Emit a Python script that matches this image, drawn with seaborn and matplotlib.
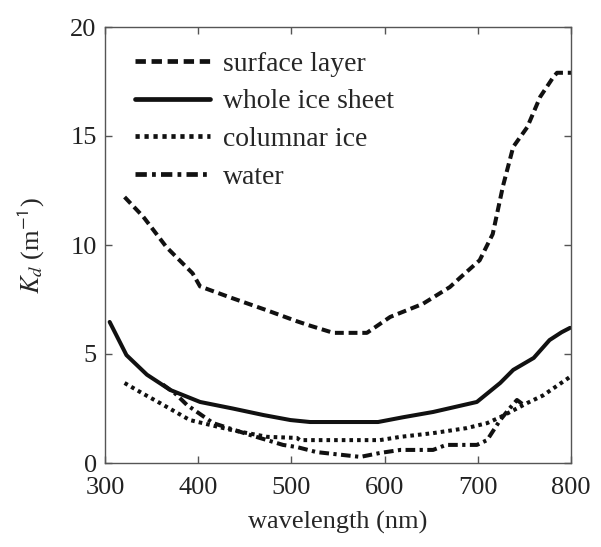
import matplotlib
matplotlib.use('Agg')
import matplotlib.pyplot as plt
import numpy as np
import pandas as pd
import seaborn as sns

sns.set_theme(style='ticks')
plt.rcParams.update({'font.family'      : 'serif',
                     'font.serif'       : ['Liberation Serif', 'DejaVu Serif'],
                     'mathtext.fontset' : 'stix',
                     'font.size'        : 19,
                     'xtick.labelsize'  : 19,
                     'ytick.labelsize'  : 19,
                     'axes.labelsize'   : 19,
                     'axes.linewidth'   : 1.0,
                     'axes.edgecolor'   : '#555555',
                     'xtick.direction'  : 'in',
                     'ytick.direction'  : 'in',
                     'xtick.color'      : '#555555',
                     'ytick.color'      : '#555555',
                     'xtick.labelcolor' : '#222222',
                     'ytick.labelcolor' : '#222222'})

#-- data --
surf_wl   = [321, 341, 366, 394, 402, 434, 474, 506, 520, 545, 581, 606, 641, 670, 681,
             702, 716, 727, 738, 753, 767, 781, 785, 800]
surf_kd   = [12.2, 11.3, 9.9, 8.7, 8.1, 7.6, 7.0, 6.5, 6.3, 5.97, 5.97, 6.7, 7.3, 8.07, 8.5,
             9.3, 10.5, 12.7, 14.5, 15.4, 16.8, 17.7, 17.9, 17.9]

whole_wl  = [305, 323, 345, 370, 402, 437, 470, 499, 520, 593, 620, 652, 699, 724, 738,
             760, 777, 790, 799]
whole_kd  = [6.47, 4.95, 4.05, 3.35, 2.8, 2.5, 2.2, 1.97, 1.88, 1.88, 2.1, 2.34, 2.8, 3.67, 4.27,
             4.82, 5.64, 6.0, 6.2]

col_wl    = [321, 340, 359, 391, 437, 474, 506, 509, 595, 617, 652, 688, 710, 724, 753, 770, 799]
col_kd    = [3.67, 3.2, 2.75, 1.97, 1.5, 1.2, 1.15, 1.05, 1.05, 1.2, 1.37, 1.6, 1.83, 2.1, 2.75, 3.1, 3.95]

water_wl  = [362, 375, 388, 416, 456, 491, 506, 527, 574, 595, 617, 652, 666, 699, 710,
             724, 734, 742, 748]
water_kd  = [3.6, 3.2, 2.66, 1.83, 1.28, 0.83, 0.73, 0.5, 0.28, 0.46, 0.6, 0.6, 0.83, 0.83, 1.05,
             1.97, 2.5, 2.89, 2.7]

labels    = ['surface layer', 'whole ice sheet', 'columnar ice', 'water']
series    = [(surf_wl, surf_kd), (whole_wl, whole_kd), (col_wl, col_kd), (water_wl, water_kd)]
dash_pats = [(2.2, 1.2), '', (0.9, 1.0), (2.4, 1.1, 0.8, 1.1)]

dfs = []
for lab, (wl, kd) in zip(labels, series):
    dfs.append(pd.DataFrame({'wavelength': wl, 'kd': kd, 'kind': lab}))
df = pd.concat(dfs)

fig = plt.figure(figsize=(6.01, 5.47), dpi=100)
ax = fig.add_axes([105/601, 84/547, 466/601, 436/547])

sns.lineplot(data=df, x='wavelength', y='kd', style='kind', style_order=labels,
             dashes=dict(zip(labels, dash_pats)), color='#111111', linewidth=2.9,
             sort=False, estimator=None, ax=ax)

ax.set_xlim(300, 800)
ax.set_ylim(0, 20)
ax.set_xticks(np.arange(300, 801, 100))
ax.set_yticks(np.arange(0, 21, 5))
ax.tick_params(top=True, right=True, length=5, width=1.0, pad=6)
ax.tick_params(axis='x', pad=10)
ax.set_xlabel('wavelength (nm)', labelpad=9)
ax.set_ylabel(r'$K_d$ (m$^{\mathsf{-1}}$)', labelpad=17)

leg = ax.legend(loc='upper left', frameon=False, fontsize=20, handlelength=2.7,
                handletextpad=0.45, labelspacing=0.44, borderaxespad=0,
                bbox_to_anchor=(19/466, 1 - 13/436))
for h in leg.get_lines():
    h.set_linewidth(3.4)

plt.savefig('out.png', dpi=100)
